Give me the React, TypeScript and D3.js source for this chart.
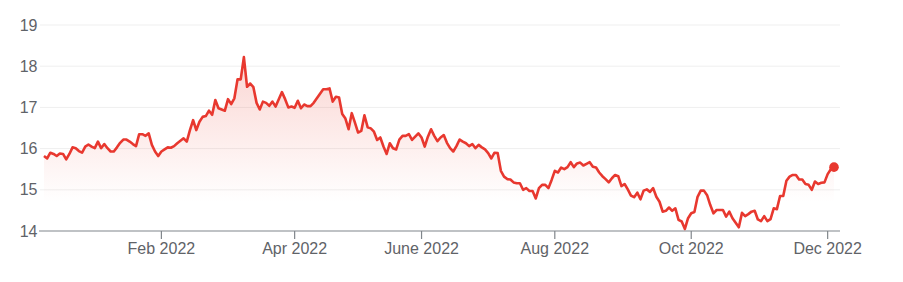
import React from "react";
import * as d3 from "d3";

const prices: number[] = [
  15.82, 15.76, 15.9, 15.87, 15.82, 15.88, 15.87, 15.74, 15.87, 16.03,
  16.01, 15.94, 15.9, 16.05, 16.1, 16.05, 16.01, 16.17, 16.01, 16.11,
  16.01, 15.93, 15.93, 16.03, 16.14, 16.22, 16.22, 16.17, 16.11, 16.06,
  16.35, 16.35, 16.31, 16.37, 16.09, 15.93, 15.82, 15.93, 15.98, 16.03,
  16.02, 16.06, 16.13, 16.19, 16.25, 16.17, 16.45, 16.69, 16.45, 16.65,
  16.77, 16.79, 16.92, 16.82, 17.18, 16.98, 16.95, 16.92, 17.2, 17.08,
  17.22, 17.68, 17.68, 18.22, 17.5, 17.58, 17.49, 17.11, 16.95, 17.14,
  17.11, 17.04, 17.14, 17.02, 17.2, 17.37, 17.2, 17.0, 17.02, 16.99,
  17.16, 16.98, 17.07, 17.03, 17.03, 17.11, 17.22, 17.33, 17.44, 17.44,
  17.46, 17.14, 17.26, 17.24, 16.84, 16.73, 16.47, 16.86, 16.63, 16.39,
  16.43, 16.81, 16.52, 16.49, 16.41, 16.21, 16.27, 16.05, 15.87, 16.13,
  16.01, 15.98, 16.22, 16.31, 16.31, 16.35, 16.21, 16.29, 16.37, 16.27,
  16.05, 16.29, 16.47, 16.31, 16.18, 16.27, 16.33, 16.14, 16.01, 15.93,
  16.06, 16.22, 16.17, 16.13, 16.06, 16.11, 16.01, 16.09, 16.03, 15.98,
  15.89, 15.76, 15.9, 15.89, 15.46, 15.32, 15.26, 15.25, 15.18, 15.16,
  15.16, 15.0, 15.04, 14.97, 14.97, 14.79, 15.04, 15.12, 15.12, 15.04,
  15.24, 15.46, 15.42, 15.54, 15.5, 15.55, 15.67, 15.55, 15.64, 15.66,
  15.59, 15.63, 15.67, 15.56, 15.54, 15.42, 15.33, 15.26, 15.18, 15.28,
  15.36, 15.33, 15.09, 15.14, 15.01, 14.86, 14.82, 14.93, 14.77, 14.98,
  15.01, 14.95, 15.04, 14.83, 14.71, 14.47, 14.49, 14.57, 14.49, 14.55,
  14.27, 14.23, 14.05, 14.31, 14.43, 14.46, 14.83, 14.98, 14.98, 14.87,
  14.63, 14.43, 14.51, 14.51, 14.51, 14.35, 14.47, 14.31, 14.2, 14.09,
  14.44, 14.36, 14.41, 14.47, 14.49, 14.28, 14.24, 14.36, 14.24, 14.29,
  14.55, 14.53, 14.85, 14.85, 15.22, 15.32, 15.36, 15.36, 15.25, 15.25,
  15.14, 15.12, 15.0, 15.2, 15.14, 15.17, 15.18, 15.38, 15.5, 15.55,
];

const yTicks: number[] = [14, 15, 16, 17, 18, 19];
const xTickLabels: string[] = ["Feb 2022", "Apr 2022", "June 2022", "Aug 2022", "Oct 2022", "Dec 2022"];
const xTickIndex: number[] = [37, 79, 119, 161, 204, 247];

const W = 903;
const H = 282;
const left = 40;
const right = 840;
const top = 25;
const bottom = 231;
const lineStart = 44;
const lineEnd = 834;
const font = "Arial, 'Liberation Sans', Helvetica, sans-serif";

export default function App() {
  const x = d3.scaleLinear().domain([0, prices.length - 1]).range([lineStart, lineEnd]);
  const y = d3.scaleLinear().domain([14, 19]).range([bottom, top]);

  const line = d3
    .line<number>()
    .x((_, i) => x(i))
    .y((d) => y(d))
    .curve(d3.curveLinear);
  const area = d3
    .area<number>()
    .x((_, i) => x(i))
    .y0(bottom)
    .y1((d) => y(d));

  const last = prices[prices.length - 1];

  return (
    <svg
      width={W}
      height={H}
      style={{ position: "absolute", left: 0, top: 0, background: "#fff" }}
    >
      <defs>
        <linearGradient id="fillGrad" gradientUnits="userSpaceOnUse" x1="0" y1={y(18.2)} x2="0" y2={y(14.7)}>
          <stop offset="0" stopColor="#ea4335" stopOpacity={0.22} />
          <stop offset="1" stopColor="#ea4335" stopOpacity={0} />
        </linearGradient>
      </defs>
      {yTicks.map((t) =>
        t === 14 ? null : (
          <line key={"g" + t} x1={left} x2={right} y1={y(t)} y2={y(t)} stroke="#efefef" strokeWidth={1} />
        )
      )}
      {yTicks.map((t) => (
        <text
          key={"yl" + t}
          x={37.5}
          y={y(t)}
          textAnchor="end"
          dominantBaseline="central"
          fontFamily={font}
          fontSize={16}
          fill="#5f6368"
        >
          {t}
        </text>
      ))}
      <path d={area(prices) || ""} fill="url(#fillGrad)" />
      <line x1={left - 1} x2={right} y1={bottom} y2={bottom} stroke="#80868b" strokeWidth={1.2} />
      {xTickIndex.map((idx, k) => (
        <g key={"xt" + k} transform={`translate(${x(idx)},0)`}>
          <line y1={bottom} y2={bottom + 8} stroke="#80868b" strokeWidth={1.2} />
          <text
            y={254}
            textAnchor="middle"
            fontFamily={font}
            fontSize={16}
            fill="#5f6368"
          >
            {xTickLabels[k]}
          </text>
        </g>
      ))}
      <path d={line(prices) || ""} fill="none" stroke="#e8382f" strokeWidth={2.6} strokeLinejoin="round" />
      <circle cx={x(prices.length - 1)} cy={y(last)} r={4.8} fill="#e8382f" />
    </svg>
  );
}
